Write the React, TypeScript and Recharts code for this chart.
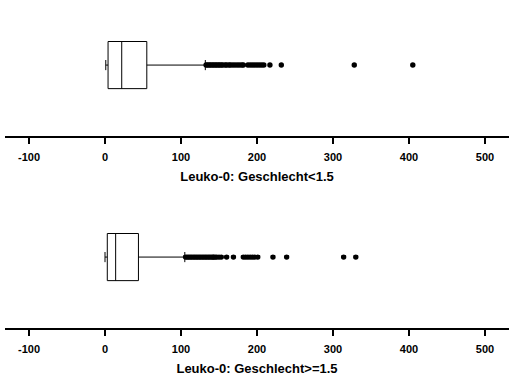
import React from "react";
import {
  ComposedChart,
  XAxis,
  YAxis,
  Scatter,
  ReferenceArea,
  ReferenceLine,
} from "recharts";

// ---- data ----
const xTicks = [-100, 0, 100, 200, 300, 400, 500];
const xDomain: [number, number] = [-131.6, 531.6];

const group1Label = "Leuko-0: Geschlecht<1.5";
const group1Stats = { min: 1, q1: 4, median: 22, q3: 55, max: 132 };
const group1Outliers = [
  133, 135, 137, 139, 141, 143, 145, 147, 149, 151, 153, 155, 158, 160, 163,
  165, 168, 171, 174, 177, 180, 182, 188, 191, 194, 197, 200, 203, 206, 209,
  217, 232, 328, 405,
];

const group2Label = "Leuko-0: Geschlecht>=1.5";
const group2Stats = { min: 0, q1: 3, median: 14, q3: 44, max: 105 };
const group2Outliers = [
  106, 108, 110, 112, 114, 116, 118, 120, 122, 124, 126, 128, 130, 132, 134,
  136, 138, 140, 142, 143, 145, 147, 150, 153, 160, 169, 182, 185, 188, 191,
  194, 197, 201, 221, 239, 314, 330,
];

// ---- layout constants (not data) ----
const W = 516;
const H = 192;
const BOX_CENTER = 0.525;
const BOX_HALF = 0.172;
const CAP_HALF = 0.037;
const FONT = "'Liberation Sans', Arial, sans-serif";

type Stats = { min: number; q1: number; median: number; q3: number; max: number };

const Dot = (props: any) => {
  const { cx, cy } = props;
  if (cx == null || cy == null) return null;
  return <circle cx={cx} cy={cy} r={2.7} fill="#000" stroke="none" />;
};

function BoxPanel({
  stats,
  outliers,
  label,
}: {
  stats: Stats;
  outliers: number[];
  label: string;
}) {
  const pts = outliers.map((v) => ({ x: v, y: BOX_CENTER }));
  const yc = BOX_CENTER;
  return (
    <ComposedChart
      width={W}
      height={H}
      margin={{ top: 0, right: 7, bottom: 0, left: 5 }}
    >
      <XAxis
        dataKey="x"
        type="number"
        domain={xDomain}
        ticks={xTicks}
        allowDataOverflow
        height={55}
        tickSize={7}
        tickMargin={9}
        axisLine={{ stroke: "#000", strokeWidth: 2 }}
        tickLine={{ stroke: "#000", strokeWidth: 2 }}
        tick={{ fill: "#000", fontSize: 11, fontWeight: "bold", fontFamily: FONT }}
        label={{
          value: label,
          position: "insideBottom",
          offset: 11,
          fill: "#000",
          fontSize: 13,
          fontWeight: "bold",
          fontFamily: FONT,
        }}
      />
      <YAxis type="number" dataKey="y" domain={[0, 1]} hide />
      <ReferenceLine
        segment={[
          { x: stats.q3, y: yc },
          { x: stats.max, y: yc },
        ]}
        stroke="#000"
        strokeWidth={1}
      />
      <ReferenceLine
        segment={[
          { x: stats.min, y: yc },
          { x: stats.q1, y: yc },
        ]}
        stroke="#000"
        strokeWidth={1}
      />
      <ReferenceLine
        segment={[
          { x: stats.min, y: yc - CAP_HALF },
          { x: stats.min, y: yc + CAP_HALF },
        ]}
        stroke="#000"
        strokeWidth={1}
      />
      <ReferenceLine
        segment={[
          { x: stats.max, y: yc - CAP_HALF },
          { x: stats.max, y: yc + CAP_HALF },
        ]}
        stroke="#000"
        strokeWidth={1}
      />
      <ReferenceArea
        x1={stats.q1}
        x2={stats.q3}
        y1={yc - BOX_HALF}
        y2={yc + BOX_HALF}
        fill="#fff"
        fillOpacity={1}
        stroke="#000"
        strokeWidth={1}
      />
      <ReferenceLine
        segment={[
          { x: stats.median, y: yc - BOX_HALF },
          { x: stats.median, y: yc + BOX_HALF },
        ]}
        stroke="#000"
        strokeWidth={1}
      />
      <Scatter data={pts} shape={<Dot />} isAnimationActive={false} />
    </ComposedChart>
  );
}

export default function App() {
  return (
    <div
      style={{
        position: "absolute",
        left: 0,
        top: 0,
        width: W,
        height: 384,
        background: "#fff",
      }}
    >
      <BoxPanel stats={group1Stats} outliers={group1Outliers} label={group1Label} />
      <BoxPanel stats={group2Stats} outliers={group2Outliers} label={group2Label} />
    </div>
  );
}
